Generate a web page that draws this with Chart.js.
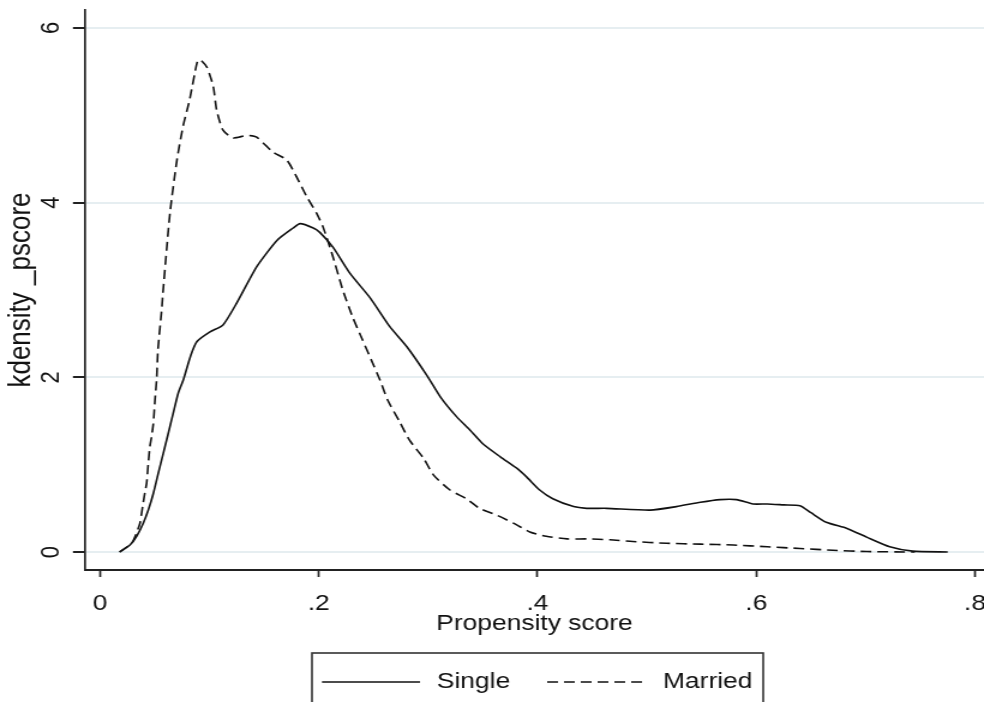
<!DOCTYPE html>
<html>
<head>
<meta charset="utf-8">
<title>kdensity _pscore</title>
<script src="https://cdn.jsdelivr.net/npm/chart.js@4"></script>
<style>
  html, body { margin: 0; padding: 0; background: #fff; overflow: hidden; }
</style>
</head>
<body>
<!-- the original graph is stretched horizontally by 1.2, so the 820px canvas is shown 984px wide -->
<canvas id="kd" width="820" height="702" style="display:block;width:984px;height:702px"></canvas>
<script>
// values
const SINGLE_X = [0.018, 0.0274, 0.0335, 0.0396, 0.0442, 0.0488, 0.0533, 0.0579, 0.0625, 0.067,
  0.0716, 0.0762, 0.083, 0.0887, 0.1006, 0.1125, 0.125, 0.1435, 0.162, 0.1766, 0.183, 0.195,
  0.201, 0.213, 0.2286, 0.247, 0.265, 0.2806, 0.299, 0.311, 0.326, 0.338, 0.35, 0.366, 0.381,
  0.39, 0.402, 0.414, 0.433, 0.445, 0.463, 0.503, 0.527, 0.549, 0.567, 0.582, 0.597, 0.61,
  0.625, 0.64, 0.65, 0.664, 0.683, 0.701, 0.722, 0.743, 0.775];
const SINGLE_Y = [0, 0.08, 0.18, 0.33, 0.48, 0.67, 0.9, 1.13, 1.36, 1.59,
  1.82, 1.97, 2.25, 2.41, 2.52, 2.6, 2.85, 3.27, 3.57, 3.71, 3.76, 3.71,
  3.66, 3.49, 3.19, 2.91, 2.58, 2.35, 2.02, 1.78, 1.55, 1.4, 1.24, 1.09, 0.96,
  0.86, 0.71, 0.61, 0.52, 0.5, 0.5, 0.48, 0.52, 0.57, 0.6, 0.6, 0.55, 0.55,
  0.54, 0.53, 0.45, 0.34, 0.27, 0.17, 0.06, 0.01, 0];

const MARRIED_X = [0.018, 0.029, 0.0335, 0.0366, 0.039, 0.0411, 0.0427, 0.0442, 0.0457, 0.0472,
  0.0488, 0.0503, 0.0518, 0.053, 0.0567, 0.0576, 0.064, 0.0704, 0.0759, 0.082, 0.0887, 0.0914,
  0.0978, 0.1036, 0.1067, 0.1125, 0.1218, 0.134, 0.1433, 0.158, 0.1707, 0.18, 0.189, 0.198,
  0.204, 0.213, 0.222, 0.231, 0.24, 0.248, 0.256, 0.263, 0.274, 0.283, 0.296, 0.305, 0.32,
  0.335, 0.347, 0.363, 0.378, 0.393, 0.408, 0.427, 0.445, 0.466, 0.487, 0.518, 0.549, 0.579,
  0.61, 0.64, 0.67, 0.701, 0.745];
const MARRIED_Y = [0, 0.1, 0.22, 0.33, 0.52, 0.68, 0.79, 1.02, 1.21, 1.32,
  1.47, 1.74, 1.97, 2.31, 2.81, 2.97, 3.88, 4.49, 4.87, 5.18, 5.6, 5.64,
  5.55, 5.33, 5.06, 4.83, 4.74, 4.77, 4.75, 4.58, 4.49, 4.29, 4.07, 3.88,
  3.72, 3.38, 3.0, 2.69, 2.43, 2.2, 1.97, 1.74, 1.49, 1.28, 1.07, 0.88, 0.71,
  0.61, 0.5, 0.42, 0.33, 0.23, 0.18, 0.15, 0.15, 0.14, 0.12, 0.1, 0.09, 0.08,
  0.06, 0.04, 0.02, 0.005, 0];

const X_TICKS = [0, 0.2, 0.4, 0.6, 0.8];
const X_TICK_LABELS = ["0", ".2", ".4", ".6", ".8"];
const Y_TICKS = [0, 2, 4, 6];
const Y_TICK_LABELS = ["0", "2", "4", "6"];

const FONT = "'Liberation Sans', Arial, Helvetica, sans-serif";
const INK = "#111";
const DASH = [9, 5];

function toPoints(xs, ys) {
  return xs.map((x, i) => ({ x: x, y: ys[i] }));
}

// y tick labels (rotated like Stata) and the boxed legend under the plot
const stataExtras = {
  id: "stataExtras",
  afterDraw(chart) {
    const { ctx, chartArea, scales } = chart;
    const y = scales.y;
    ctx.save();
    ctx.font = "22px " + FONT;
    ctx.fillStyle = INK;
    ctx.textAlign = "center";
    ctx.textBaseline = "middle";
    y.ticks.forEach((t, i) => {
      ctx.save();
      ctx.translate(chartArea.left - 29, y.getPixelForValue(t.value));
      ctx.rotate(-Math.PI / 2);
      ctx.fillText(Y_TICK_LABELS[i], 0, 1);
      ctx.restore();
    });

    // legend
    const boxL = (chartArea.left + chartArea.right) / 2 - 185.4;
    const boxT = chartArea.bottom + 83;
    const midY = boxT + 29;
    ctx.strokeStyle = "#333";
    ctx.lineWidth = 1.6;
    ctx.strokeRect(boxL, boxT, 376, 60);

    const sets = chart.data.datasets;
    ctx.strokeStyle = INK;
    ctx.lineWidth = 1.6;
    ctx.beginPath();
    ctx.setLineDash([]);
    ctx.moveTo(boxL + 8.3, midY);
    ctx.lineTo(boxL + 90, midY);
    ctx.stroke();
    ctx.beginPath();
    ctx.setLineDash(DASH);
    ctx.moveTo(boxL + 196, midY);
    ctx.lineTo(boxL + 279, midY);
    ctx.stroke();
    ctx.setLineDash([]);

    ctx.textAlign = "left";
    ctx.fillText(sets[0].label, boxL + 104, midY);
    ctx.fillText(sets[1].label, boxL + 292.5, midY);
    ctx.restore();
  }
};

Chart.defaults.font.family = FONT;
Chart.defaults.font.size = 22;
Chart.defaults.color = INK;

new Chart(document.getElementById("kd"), {
  type: "line",
  data: {
    datasets: [
      {
        label: "Single",
        data: toPoints(SINGLE_X, SINGLE_Y),
        borderColor: INK,
        borderWidth: 1.6,
        pointRadius: 0,
        fill: false,
        tension: 0.2
      },
      {
        label: "Married",
        data: toPoints(MARRIED_X, MARRIED_Y),
        borderColor: INK,
        borderWidth: 1.6,
        borderDash: DASH,
        pointRadius: 0,
        fill: false,
        tension: 0.2
      }
    ]
  },
  options: {
    responsive: false,
    animation: false,
    layout: { padding: { top: 10, left: 0, right: 0, bottom: 0 } },
    plugins: {
      legend: { display: false },
      tooltip: { enabled: false }
    },
    scales: {
      x: {
        type: "linear",
        min: -0.0137,
        max: 0.8082,
        afterBuildTicks: (s) => { s.ticks = X_TICKS.map(v => ({ value: v })); },
        afterFit: (s) => { s.height = 132; s.paddingLeft = 0; s.paddingRight = 0; },
        ticks: {
          autoSkip: false,
          maxRotation: 0,
          padding: 14,
          color: INK,
          callback: (v, i) => X_TICK_LABELS[i]
        },
        grid: {
          drawOnChartArea: false,
          drawTicks: true,
          tickLength: 7,
          tickWidth: 1.7,
          tickColor: "#222"
        },
        border: { color: "#222", width: 2 },
        title: {
          display: true,
          text: "Propensity score",
          color: INK,
          padding: { top: 0, bottom: 65 }
        }
      },
      y: {
        type: "linear",
        min: -0.206,
        max: 6.206,
        afterBuildTicks: (s) => { s.ticks = Y_TICKS.map(v => ({ value: v })); },
        afterFit: (s) => { s.width = 70.8; s.paddingTop = 0; s.paddingBottom = 0; },
        ticks: { display: false },
        grid: {
          color: "#e6eef1",
          lineWidth: 2,
          drawTicks: true,
          tickLength: 10,
          tickWidth: 2,
          tickColor: "#222"
        },
        border: { color: "#222", width: 1.7 },
        title: {
          display: true,
          text: "kdensity _pscore",
          color: INK,
          font: { size: 26 },
          padding: { top: 2, bottom: 0 }
        }
      }
    }
  },
  plugins: [stataExtras]
});
</script>
</body>
</html>
